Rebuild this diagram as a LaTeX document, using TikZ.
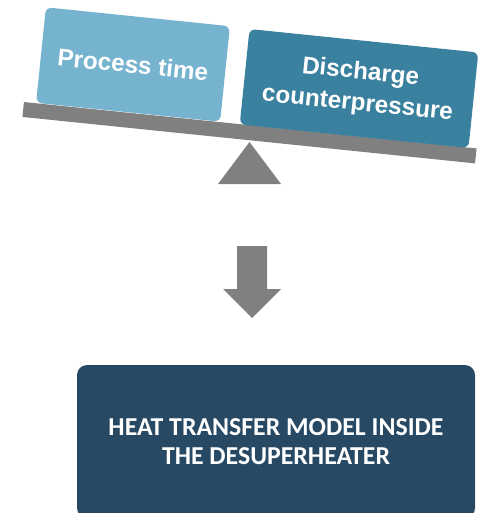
\documentclass[tikz,border=0pt]{standalone}
\usepackage{fontspec}
\setmainfont{Liberation Sans}
\newfontfamily\carlito{Carlito}
\usetikzlibrary{positioning}
\definecolor{lightbox}{HTML}{75B3CE}
\definecolor{darkbox}{HTML}{3A809F}
\definecolor{beamgray}{HTML}{808080}
\definecolor{navy}{HTML}{284963}

\begin{document}
\begin{tikzpicture}[x=1pt, y=-1pt,
  weight/.style={rounded corners=6pt, minimum height=96pt, inner sep=0pt, rotate=-5.86,
    text=white, align=center, font=\fontsize{24.3}{31.5}\selectfont\bfseries}]
  \useasboundingbox (0,0) rectangle (481,513);
  % balance
  \fill[beamgray] (218,184) -- (281,184) -- (249.5,142) -- cycle;
  \node[fill=beamgray, minimum width=455pt, minimum height=15pt, inner sep=0pt, rotate=-5.86] (beam) at (249.5,132.7) {};
  \node[weight, fill=lightbox, minimum width=185pt] (time) at (133,64.5) {Process time};
  \node[weight, fill=darkbox, minimum width=230pt] (counter) at (359,88.5) {Discharge\\counterpressure};
  % down arrow
  \fill[beamgray] (237,246) -- (267,246) -- (267,289) -- (281,289) -- (252,318) -- (223,289) -- (237,289) -- cycle;
  % result
  \node[fill=navy, rounded corners=10pt, minimum width=398pt, minimum height=153pt, inner sep=0pt,
    text=white, align=center, font=\carlito\fontsize{25.8}{29.5}\selectfont\bfseries] (model) at (276,441.5)
    {HEAT TRANSFER MODEL INSIDE\\THE DESUPERHEATER};
\end{tikzpicture}
\end{document}
